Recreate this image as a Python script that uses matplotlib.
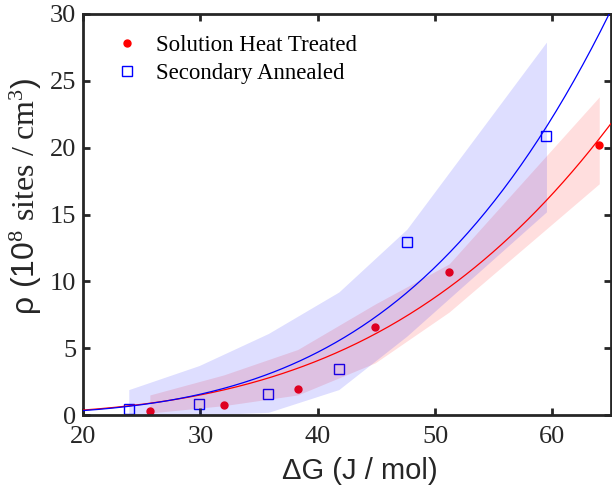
import numpy as np
import matplotlib
matplotlib.use('Agg')
import matplotlib.pyplot as plt

# Solution heat treated (red)
dg_sht = [25.7, 32.0, 38.3, 44.9, 51.2, 64.0]
rho_sht = [0.28, 0.72, 1.93, 6.55, 10.7, 20.2]
low_sht = [0.15, 0.7, 1.5, 3.9, 7.7, 17.3]
up_sht = [1.5, 3.0, 4.9, 8.3, 11.3, 23.8]

# Secondary annealed (blue)
dg_sa = [23.9, 29.9, 35.8, 41.8, 47.6, 59.5]
rho_sa = [0.45, 0.8, 1.58, 3.42, 12.96, 20.9]
low_sa = [0.0, 0.0, 0.2, 1.9, 5.9, 15.2]
up_sa = [1.9, 3.7, 6.1, 9.2, 13.9, 27.9]

# power law fits rho = c * dG^n
fit_sht = (4.1 / 40.1**3.46, 3.46)
fit_sa = (0.57 / 23.1**3.84, 3.84)

plt.rcParams['mathtext.fontset'] = 'custom'
plt.rcParams['mathtext.rm'] = 'Liberation Serif'
plt.rcParams['mathtext.it'] = 'Liberation Serif:italic'

fig = plt.figure(figsize=(6.12, 4.91), dpi=100)
ax = fig.add_axes([83/612, 1-415/491, 528/612, 401/491])

ax.plot(dg_sht, rho_sht, 'o', color='r', ms=5, zorder=1, label='Solution Heat Treated')
ax.plot(dg_sa, rho_sa, 's', color='b', mfc='none', ms=7, mew=1, zorder=1, label='Secondary Annealed')

ax.fill_between(dg_sht, low_sht, up_sht, color='r', alpha=0.13, lw=0, zorder=2)
ax.fill_between(dg_sa, low_sa, up_sa, color='b', alpha=0.13, lw=0, zorder=2)

xx = np.linspace(20, 65, 300)
ax.plot(xx, fit_sht[0] * xx**fit_sht[1], color='r', lw=0.9, zorder=3)
ax.plot(xx, fit_sa[0] * xx**fit_sa[1], color='b', lw=0.9, zorder=3)

ax.set_xlim(20, 65)
ax.set_ylim(0, 30)
ax.set_xticks([20, 30, 40, 50, 60])
ax.set_yticks([0, 5, 10, 15, 20, 25, 30])
ax.tick_params(direction='in', length=5, width=2, top=True, right=True,
               labelsize=19, colors='#262626')
ax.tick_params(axis='x', pad=8)
ax.tick_params(axis='y', pad=5)
for lab in ax.get_xticklabels() + ax.get_yticklabels():
    lab.set_family('Liberation Serif')
for sp in ax.spines.values():
    sp.set_linewidth(2)
    sp.set_color('#262626')

ax.set_xlabel('ΔG (J / mol)', family='Liberation Sans', fontsize=21, color='#262626')
ax.set_ylabel(r'ρ (10$^8$ $\mathrm{sites\ /\ cm}^3$)', family='Liberation Sans', fontsize=23,
              color='#262626')
ax.xaxis.set_label_coords(0.525, -0.105)
ax.yaxis.set_label_coords(-0.074, 0.545)

leg = ax.legend(loc='upper left', bbox_to_anchor=(0.01, 1.0), frameon=False,
                prop={'family': 'Liberation Serif', 'size': 16.5}, handletextpad=0.45,
                handlelength=1.6, labelspacing=0.3)

fig.savefig('out.png', dpi=100)
